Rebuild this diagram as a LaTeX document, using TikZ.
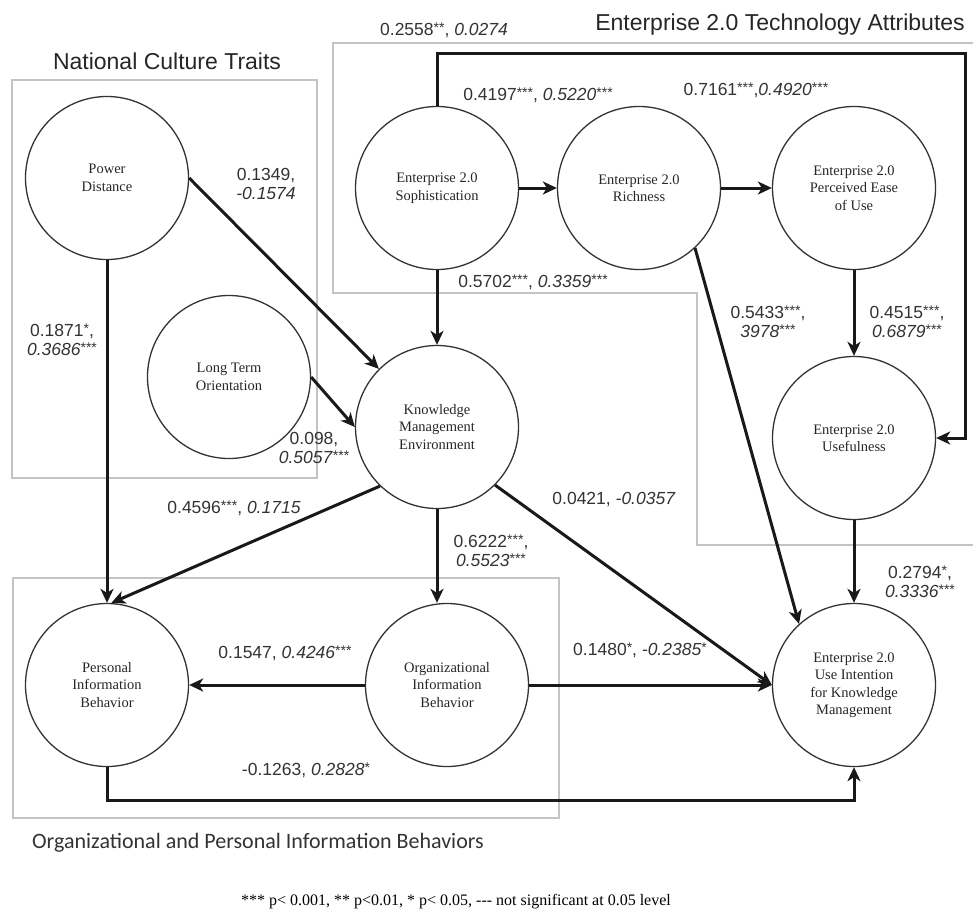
\documentclass[tikz,border=0pt]{standalone}
\usepackage{fontspec}
\setmainfont{Liberation Serif}
\newfontfamily\lblfont{Liberation Sans}
\newfontfamily\calfont{Carlito}
\usetikzlibrary{arrows.meta}
\definecolor{boxgray}{HTML}{C4C4C4}
\definecolor{inkgray}{HTML}{333333}
% significance stars
\newcommand{\sg}[1]{\raisebox{3pt}{\fontsize{14}{14}\selectfont #1}}

\begin{document}
\begin{tikzpicture}[x=1pt,y=-1pt,
  construct/.style={circle,draw=inkgray,line width=1.3pt,minimum size=163pt,
                    inner sep=0pt,align=center,text=black!85,
                    font=\fontsize{14.5}{17.5}\selectfont},
  group/.style={draw=boxgray,line width=1.6pt},
  grouptitle/.style={font=\lblfont\fontsize{23}{26}\selectfont,text=black!85,
                     inner sep=0pt},
  coef/.style={font=\lblfont\fontsize{17.5}{19}\selectfont,text=black!80,
               align=center,inner sep=0pt},
  arr/.style={-{Stealth[length=14pt,width=13pt,inset=4pt]},
              line width=3pt,draw=black!90}
]
  \useasboundingbox (0,0) rectangle (973,918);

  % ---- Group boxes and their titles ----------------------------
  \draw[group] (12,80) rectangle (317,478);
  \draw[group] (973,43) -- (333,43) -- (333,293) -- (697,293)
               -- (697,545) -- (973,545);
  \draw[group] (13,578) rectangle (559,818);

  \node[grouptitle] (tNCT) at (167,61) {National Culture Traits};
  \node[grouptitle] (tETA) at (780,25) {Enterprise 2.0 Technology Attributes};
  \node[font=\calfont\fontsize{22}{24}\selectfont,text=black!80,inner sep=0pt]
    (tOPB) at (258,843) {Organizational and Personal Information Behaviors};

  % ---- Constructs ----------------------------------------------
  \node[construct] (PD)  at (107,178) {Power\\Distance};
  \node[construct] (LTO) at (229,377) {Long Term\\Orientation};
  \node[construct] (ES)  at (437,188) {Enterprise 2.0\\Sophistication};
  \node[construct] (ER)  at (639,188) {Enterprise 2.0\\Richness};
  \node[construct] (EP)  at (854,188) {Enterprise 2.0\\Perceived Ease\\of Use};
  \node[construct] (KME) at (437,427) {Knowledge\\Management\\Environment};
  \node[construct] (EU)  at (854,438) {Enterprise 2.0\\Usefulness};
  \node[construct] (PIB) at (107,685) {Personal\\Information\\Behavior};
  \node[construct] (OIB) at (447,685) {Organizational\\Information\\Behavior};
  \node[construct] (UI)  at (854,685)
    {Enterprise 2.0\\Use Intention\\for Knowledge\\Management};

  \coordinate (cTop) at (965,53);
  \coordinate (cBot) at (107,800);

  % ---- Paths ---------------------------------------------------
  \draw[arr] (ES) -- (ER);
  \draw[arr] (ER) -- (EP);
  \draw[arr] (ES.north) |- (cTop) |- (EU.east);
  \draw[arr] (EP) -- (EU);
  \draw[arr] (ER.-47) -- (UI.132);
  \draw[arr] (ES) -- (KME);
  \draw[arr] (PD.east) -- (KME.135);
  \draw[arr] (LTO.east) -- (KME.west);
  \draw[arr] (PD) -- (PIB);
  \draw[arr] (KME.226) -- (PIB.87);
  \draw[arr] (KME.south) -- (KME.south |- OIB.north);
  \draw[arr] (KME.-45) -- (UI.west);
  \draw[arr] (OIB) -- (UI);
  \draw[arr] (OIB) -- (PIB);
  \draw[arr] (PIB.south) -- (cBot) -| (UI.south);
  \draw[arr] (EU) -- (UI);

  % ---- Path coefficients ---------------------------------------
  \node[coef] (kESER)  at (538,95)  {0.4197\sg{***}, \textit{0.5220}\sg{***}};
  \node[coef] (kEREP)  at (756,90)  {0.7161\sg{***},\textit{0.4920}\sg{***}};
  \node[coef] (kESEU)  at (444,30)  {0.2558\sg{**}, \textit{0.0274}};
  \node[coef] (kEPEU)  at (907,322) {0.4515\sg{***},\\\textit{0.6879}\sg{***}};
  \node[coef] (kERUI)  at (768,322) {0.5433\sg{***},\\\textit{3978}\sg{***}};
  \node[coef] (kESKME) at (533,282) {0.5702\sg{***}, \textit{0.3359}\sg{***}};
  \node[coef] (kPDKME) at (266,184) {0.1349,\\\textit{-0.1574}};
  \node[coef] (kLTO)   at (314,448) {0.098,\\\textit{0.5057}\sg{***}};
  \node[coef] (kPDPIB) at (62,340)  {0.1871\sg{*},\\\textit{0.3686}\sg{***}};
  \node[coef] (kKMEP)  at (234,508) {0.4596\sg{***}, \textit{0.1715}};
  \node[coef] (kKMEO)  at (491,551) {0.6222\sg{***},\\\textit{0.5523}\sg{***}};
  \node[coef] (kKMEU)  at (614,500) {0.0421, \textit{-0.0357}};
  \node[coef] (kOIBUI) at (640,650) {0.1480\sg{*}, \textit{-0.2385}\sg{*}};
  \node[coef] (kOIBP)  at (285,653) {0.1547, \textit{0.4246}\sg{***}};
  \node[coef] (kPIBUI) at (306,770) {-0.1263, \textit{0.2828}\sg{*}};
  \node[coef] (kEUUI)  at (920,582) {0.2794\sg{*},\\\textit{0.3336}\sg{***}};

  % legend
  \node[font=\fontsize{16}{18}\selectfont,inner sep=0pt] (legend) at (456,902)
    {*** p< 0.001, ** p<0.01, * p< 0.05, {-}{-}{-} not significant at 0.05 level};

\end{tikzpicture}
\end{document}
